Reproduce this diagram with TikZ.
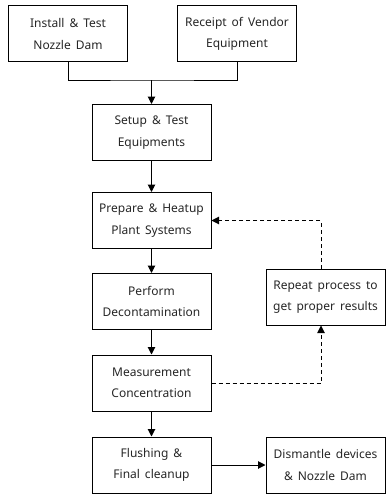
\documentclass[tikz,border=0pt]{standalone}
\usepackage{fontspec}
\setmainfont{Noto Sans}[WordSpace={1.6}]
\usetikzlibrary{arrows.meta}
\begin{document}
\begin{tikzpicture}[x=1pt,y=-1pt,
	stepbox/.style={draw, line width=1pt, minimum width=119pt, minimum height=56pt, inner sep=0pt, align=center, font=\fontsize{12}{21.5}\selectfont, text=black!85},
	flow/.style={line width=1pt, -{Triangle[length=7.5pt,width=7.5pt]}},
	loop/.style={flow, dashed, dash pattern=on 4pt off 3pt}]
	\useasboundingbox (0,0) rectangle (386,495);
	\node[stepbox] (install) at (68,34) {Install \& Test\\Nozzle Dam};
	\node[stepbox] (vendor) at (237,34) {Receipt of Vendor\\Equipment};
	\node[stepbox] (setup) at (151.5,132.5) {Setup \& Test\\Equipments};
	\node[stepbox] (prepare) at (151.5,220.5) {Prepare \& Heatup\\Plant Systems};
	\node[stepbox] (perform) at (151.5,301.5) {Perform\\Decontamination};
	\node[stepbox] (measure) at (151.5,383) {Measurement\\Concentration};
	\node[stepbox] (flush) at (151.5,465) {Flushing \&\\Final cleanup};
	\node[stepbox] (dismantle) at (325.5,465) {Dismantle devices\\\& Nozzle Dam};
	\node[stepbox] (repeat) at (325.5,297) {Repeat process to\\get proper results};
	\coordinate (join) at (151.5,80);
	\draw[line width=1pt] (install.south) |- (join) -| (vendor.south);
	\draw[flow] (join) -- (setup.north);
	\draw[flow] (setup) -- (prepare);
	\draw[flow] (prepare) -- (perform);
	\draw[flow] (perform) -- (measure);
	\draw[flow] (measure) -- (flush);
	\draw[flow] (flush) -- (dismantle);
	\draw[loop] (measure.east) -| ([xshift=-4.5pt]repeat.south);
	\draw[loop] ([xshift=-4.5pt]repeat.north) |- (prepare.east);
\end{tikzpicture}
\end{document}
